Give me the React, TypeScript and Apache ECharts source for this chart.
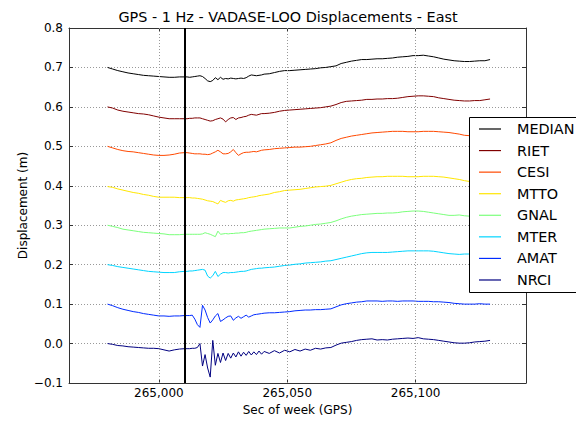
import React, { useEffect, useRef } from "react";
import * as echarts from "echarts";

// Seconds of GPS week (sampled every 2 s, every 1 s around the event)
const secs = [
  264980, 264982, 264984, 264986, 264988, 264990, 264992, 264994, 264996, 264998, 265000, 265002, 265004, 265006, 265008, 265010,
  265011, 265012, 265013, 265014, 265015, 265016, 265017, 265018, 265019, 265020,
  265021, 265022, 265023, 265024, 265025, 265026, 265027, 265028, 265029, 265030,
  265031, 265032, 265033, 265034, 265035, 265036, 265037, 265038, 265039, 265040,
  265041, 265043, 265045, 265047, 265049, 265051, 265053, 265055, 265057, 265059,
  265061, 265063, 265065, 265067, 265069, 265071, 265073, 265075, 265077, 265079,
  265081, 265083, 265085, 265087, 265089, 265091, 265093, 265095, 265097, 265099,
  265101, 265103, 265105, 265107, 265109, 265111, 265113, 265115, 265117, 265119,
  265121, 265123, 265125, 265127, 265129,
];

const MEDIAN = [
  0.700, 0.696, 0.692, 0.689, 0.686, 0.684, 0.682, 0.680, 0.679, 0.678, 0.677, 0.676, 0.675, 0.675, 0.676, 0.676,
  0.676, 0.675, 0.676, 0.677, 0.678, 0.679, 0.677, 0.672, 0.666, 0.664,
  0.667, 0.674, 0.669, 0.675, 0.670, 0.672, 0.671, 0.673, 0.672, 0.671,
  0.672, 0.673, 0.672, 0.674, 0.678, 0.681, 0.680, 0.679, 0.680, 0.681,
  0.683, 0.684, 0.687, 0.690, 0.692, 0.692, 0.693, 0.694, 0.695, 0.696,
  0.697, 0.699, 0.700, 0.702, 0.704, 0.710, 0.713, 0.716, 0.718, 0.720,
  0.720, 0.721, 0.722, 0.722, 0.723, 0.724, 0.726, 0.727, 0.728, 0.730,
  0.730, 0.731, 0.729, 0.727, 0.724, 0.721, 0.719, 0.717, 0.716, 0.715,
  0.715, 0.716, 0.717, 0.717, 0.720,
];

const RIET = [
  0.600, 0.597, 0.592, 0.589, 0.587, 0.585, 0.583, 0.582, 0.580, 0.577, 0.574, 0.572, 0.570, 0.570, 0.570, 0.570,
  0.570, 0.571, 0.571, 0.572, 0.572, 0.572, 0.570, 0.568, 0.566, 0.564,
  0.565, 0.568, 0.570, 0.572, 0.569, 0.562, 0.568, 0.572, 0.573, 0.568,
  0.572, 0.573, 0.575, 0.576, 0.579, 0.581, 0.580, 0.579, 0.581, 0.583,
  0.583, 0.584, 0.586, 0.589, 0.591, 0.592, 0.593, 0.594, 0.595, 0.596,
  0.597, 0.598, 0.600, 0.602, 0.606, 0.611, 0.614, 0.615, 0.616, 0.617,
  0.619, 0.619, 0.620, 0.620, 0.621, 0.621, 0.622, 0.624, 0.626, 0.627,
  0.628, 0.628, 0.627, 0.626, 0.623, 0.621, 0.619, 0.617, 0.616, 0.615,
  0.615, 0.616, 0.616, 0.618, 0.620,
];

const CESI = [
  0.500, 0.496, 0.492, 0.489, 0.487, 0.486, 0.484, 0.482, 0.480, 0.478, 0.477, 0.477, 0.478, 0.480, 0.483, 0.484,
  0.484, 0.483, 0.482, 0.481, 0.481, 0.481, 0.480, 0.480, 0.479, 0.480,
  0.483, 0.486, 0.490, 0.486, 0.481, 0.481, 0.482, 0.486, 0.492, 0.484,
  0.477, 0.481, 0.484, 0.485, 0.485, 0.486, 0.487, 0.486, 0.488, 0.490,
  0.491, 0.492, 0.494, 0.495, 0.496, 0.497, 0.498, 0.498, 0.499, 0.500,
  0.502, 0.504, 0.506, 0.509, 0.515, 0.520, 0.523, 0.526, 0.528, 0.530,
  0.532, 0.534, 0.535, 0.536, 0.537, 0.538, 0.538, 0.538, 0.537, 0.537,
  0.537, 0.538, 0.538, 0.538, 0.537, 0.536, 0.535, 0.533, 0.531, 0.528,
  0.527, 0.525, 0.524, 0.522, 0.521,
];

const MTTO = [
  0.398, 0.396, 0.392, 0.389, 0.386, 0.383, 0.381, 0.378, 0.376, 0.373, 0.371, 0.371, 0.371, 0.371, 0.370, 0.370,
  0.370, 0.370, 0.369, 0.369, 0.368, 0.367, 0.366, 0.364, 0.362, 0.361,
  0.360, 0.357, 0.354, 0.363, 0.360, 0.358, 0.362, 0.363, 0.361, 0.364,
  0.365, 0.366, 0.367, 0.368, 0.370, 0.371, 0.372, 0.373, 0.375, 0.376,
  0.377, 0.379, 0.383, 0.385, 0.388, 0.389, 0.390, 0.391, 0.393, 0.395,
  0.397, 0.398, 0.399, 0.401, 0.405, 0.409, 0.413, 0.416, 0.418, 0.419,
  0.421, 0.422, 0.423, 0.423, 0.424, 0.424, 0.424, 0.424, 0.423, 0.423,
  0.423, 0.424, 0.424, 0.424, 0.423, 0.422, 0.420, 0.418, 0.416, 0.413,
  0.411, 0.409, 0.407, 0.405, 0.404,
];

const GNAL = [
  0.300, 0.297, 0.294, 0.290, 0.288, 0.286, 0.284, 0.282, 0.281, 0.280, 0.279, 0.278, 0.276, 0.276, 0.276, 0.277,
  0.277, 0.277, 0.277, 0.277, 0.277, 0.277, 0.278, 0.281, 0.279, 0.277,
  0.274, 0.271, 0.285, 0.277, 0.278, 0.279, 0.278, 0.279, 0.279, 0.280,
  0.280, 0.281, 0.281, 0.282, 0.284, 0.285, 0.286, 0.287, 0.288, 0.289,
  0.290, 0.291, 0.292, 0.293, 0.293, 0.293, 0.295, 0.297, 0.298, 0.300,
  0.302, 0.303, 0.305, 0.307, 0.311, 0.316, 0.320, 0.323, 0.325, 0.327,
  0.328, 0.329, 0.330, 0.330, 0.331, 0.331, 0.332, 0.334, 0.335, 0.336,
  0.336, 0.335, 0.333, 0.331, 0.329, 0.327, 0.325, 0.325, 0.326, 0.324,
  0.323, 0.322, 0.321, 0.320, 0.320,
];

const MTER = [
  0.200, 0.198, 0.195, 0.193, 0.191, 0.189, 0.187, 0.185, 0.183, 0.182, 0.181, 0.180, 0.180, 0.180, 0.182, 0.183,
  0.183, 0.184, 0.184, 0.185, 0.186, 0.187, 0.188, 0.186, 0.171, 0.166,
  0.172, 0.183, 0.170, 0.176, 0.180, 0.180, 0.179, 0.180, 0.180, 0.181,
  0.182, 0.183, 0.183, 0.184, 0.186, 0.188, 0.189, 0.190, 0.191, 0.191,
  0.192, 0.193, 0.194, 0.196, 0.198, 0.199, 0.201, 0.202, 0.204, 0.205,
  0.206, 0.207, 0.209, 0.210, 0.213, 0.216, 0.219, 0.222, 0.225, 0.228,
  0.230, 0.231, 0.231, 0.231, 0.231, 0.232, 0.233, 0.234, 0.235, 0.235,
  0.235, 0.235, 0.235, 0.234, 0.232, 0.230, 0.228, 0.227, 0.226, 0.227,
  0.227, 0.226, 0.225, 0.224, 0.223,
];

const AMAT = [
  0.100, 0.096, 0.091, 0.087, 0.084, 0.081, 0.079, 0.076, 0.074, 0.072, 0.070, 0.070, 0.069, 0.070, 0.070, 0.071,
  0.071, 0.071, 0.072, 0.062, 0.048, 0.041, 0.097, 0.085, 0.066, 0.052,
  0.060, 0.070, 0.076, 0.056, 0.060, 0.065, 0.069, 0.070, 0.059, 0.065,
  0.069, 0.064, 0.068, 0.072, 0.067, 0.070, 0.073, 0.074, 0.075, 0.076,
  0.077, 0.078, 0.078, 0.079, 0.080, 0.081, 0.083, 0.084, 0.085, 0.085,
  0.086, 0.086, 0.087, 0.088, 0.093, 0.098, 0.101, 0.103, 0.105, 0.106,
  0.108, 0.108, 0.108, 0.107, 0.108, 0.108, 0.107, 0.108, 0.108, 0.108,
  0.107, 0.107, 0.107, 0.106, 0.106, 0.105, 0.104, 0.102, 0.101, 0.100,
  0.100, 0.100, 0.101, 0.100, 0.100,
];

const NRCI = [
  0.000, -0.002, -0.005, -0.006, -0.008, -0.009, -0.010, -0.011, -0.012, -0.012, -0.013, -0.016, -0.019, -0.016, -0.014, -0.013,
  -0.013, -0.013, -0.012, -0.012, -0.010, 0.000, -0.057, -0.028, -0.062, -0.085,
  0.008, -0.055, -0.025, -0.048, -0.024, -0.043, -0.025, -0.037, -0.024, -0.034,
  -0.021, -0.032, -0.022, -0.030, -0.020, -0.029, -0.021, -0.028, -0.019, -0.027,
  -0.020, -0.025, -0.018, -0.024, -0.017, -0.021, -0.015, -0.019, -0.014, -0.017,
  -0.012, -0.014, -0.011, -0.010, -0.004, 0.001, 0.003, 0.005, 0.008, 0.010,
  0.011, 0.012, 0.009, 0.010, 0.009, 0.011, 0.012, 0.013, 0.014, 0.013,
  0.015, 0.012, 0.011, 0.010, 0.008, 0.006, 0.004, 0.002, 0.001, 0.001,
  0.002, 0.004, 0.005, 0.006, 0.008,
];

const seriesNames = ["MEDIAN", "RIET", "CESI", "MTTO", "GNAL", "MTER", "AMAT", "NRCI"];
const seriesColors = ["#000000", "#800000", "#ff4900", "#ffe600", "#7bff7b", "#00d4ff", "#002bff", "#000080"];
const xTicks = [265000, 265050, 265100];
const eventSec = 265010;
const xMin = 264965;
const xMax = 265143;
const yMin = -0.1;
const yMax = 0.8;
const yStep = 0.1;

const titleText = "GPS - 1 Hz - VADASE-LOO Displacements - East";
const xName = "Sec of week (GPS)";
const yName = "Displacement (m)";

export default function App() {
  const ref = useRef<HTMLDivElement>(null);

  useEffect(() => {
    if (!ref.current) return;
    const chart = echarts.init(ref.current, null, { renderer: "svg" });
    const values = [MEDIAN, RIET, CESI, MTTO, GNAL, MTER, AMAT, NRCI];
    const font = "DejaVu Sans";
    const spine = "#333333";
    const fmtX = (v: number) => String(Math.round(v)).replace(/\B(?=(\d{3})+(?!\d))/g, ",");
    const fmtY = (v: number) => {
      const s = Math.abs(v).toFixed(1);
      return v < -1e-9 ? "\u2212" + s : s;
    };

    const dataSeries = seriesNames.map((name, k) => ({
      name,
      type: "line",
      xAxisIndex: 0,
      yAxisIndex: 0,
      data: secs.map((t, i) => [t, values[k][i]]),
      showSymbol: false,
      symbol: "none",
      silent: true,
      z: 3,
      itemStyle: { color: seriesColors[k] },
      lineStyle: { color: seriesColors[k], width: 1 },
    }));

    chart.setOption({
      animation: false,
      title: {
        text: titleText,
        left: "center",
        top: 10,
        padding: [0, 0, 0, 19],
        textStyle: { fontFamily: font, fontSize: 14.4, fontWeight: "normal", color: "#000" },
      },
      grid: { left: 69, top: 28, right: 50, bottom: 41 },
      legend: {
        data: seriesNames,
        orient: "vertical",
        left: 479,
        top: 121,
        padding: 0,
        itemWidth: 22,
        itemHeight: 1.2,
        itemGap: 5.57,
        icon: "rect",
        selectedMode: false,
        z: 20,
        textStyle: { fontFamily: font, fontSize: 14.4, color: "#000", lineHeight: 16, padding: [0, 0, 0, 11] },
      },
      graphic: [
        {
          type: "rect",
          z: 15,
          silent: true,
          shape: { x: 469.5, y: 117.5, width: 160, height: 175 },
          style: { fill: "#ffffff", stroke: "#000000", lineWidth: 1 },
        },
      ],
      xAxis: [
        {
          type: "value",
          min: xMin,
          max: xMax,
          position: "bottom",
          name: xName,
          nameLocation: "middle",
          nameGap: 21,
          nameMoveOverlap: false,
          nameTextStyle: { fontFamily: font, fontSize: 12, color: "#000" },
          axisLine: { show: true, onZero: false, lineStyle: { color: spine, width: 1 } },
          axisTick: { show: true, inside: true, length: 4, customValues: xTicks, lineStyle: { color: spine } },
          axisLabel: { customValues: xTicks, formatter: fmtX, fontFamily: font, fontSize: 12, color: "#000", margin: 4 },
          splitLine: { show: false },
        },
        {
          type: "value",
          min: xMin,
          max: xMax,
          position: "top",
          axisLine: { show: true, onZero: false, lineStyle: { color: spine, width: 1 } },
          axisTick: { show: true, inside: true, length: 4, customValues: xTicks, lineStyle: { color: spine } },
          axisLabel: { show: false },
          splitLine: { show: false },
        },
      ],
      yAxis: [
        {
          type: "value",
          min: yMin,
          max: yMax,
          interval: yStep,
          position: "left",
          name: yName,
          nameLocation: "middle",
          nameGap: 40,
          nameMoveOverlap: false,
          nameTextStyle: { fontFamily: font, fontSize: 12, color: "#000" },
          axisLine: { show: true, onZero: false, lineStyle: { color: spine, width: 1 } },
          axisTick: { show: true, inside: true, length: 4, lineStyle: { color: spine } },
          axisLabel: { formatter: fmtY, fontFamily: font, fontSize: 12, color: "#000", margin: 6 },
          splitLine: { show: true, lineStyle: { color: "#999999", width: 1, type: [1, 2] } },
        },
        {
          type: "value",
          min: yMin,
          max: yMax,
          interval: yStep,
          position: "right",
          axisLine: { show: true, onZero: false, lineStyle: { color: spine, width: 1 } },
          axisTick: { show: true, inside: true, length: 4, lineStyle: { color: spine } },
          axisLabel: { show: false },
          splitLine: { show: false },
        },
      ],
      series: [
        {
          name: "xgrid",
          type: "line",
          data: [],
          silent: true,
          z: 1,
          markLine: {
            silent: true,
            symbol: ["none", "none"],
            label: { show: false },
            emphasis: { disabled: true },
            lineStyle: { color: "#999999", width: 1, type: [1, 2] },
            data: xTicks.map((v) => ({ xAxis: v })),
          },
        },
        ...dataSeries,
        {
          name: "event",
          type: "line",
          data: [],
          silent: true,
          z: 5,
          markLine: {
            silent: true,
            symbol: ["none", "none"],
            label: { show: false },
            emphasis: { disabled: true },
            lineStyle: { color: "#000000", width: 2, type: "solid" },
            data: [{ xAxis: eventSec }],
          },
        },
      ],
    });

    return () => chart.dispose();
  }, []);

  return <div ref={ref} style={{ position: "absolute", left: 0, top: 0, width: 576, height: 424 }} />;
}
